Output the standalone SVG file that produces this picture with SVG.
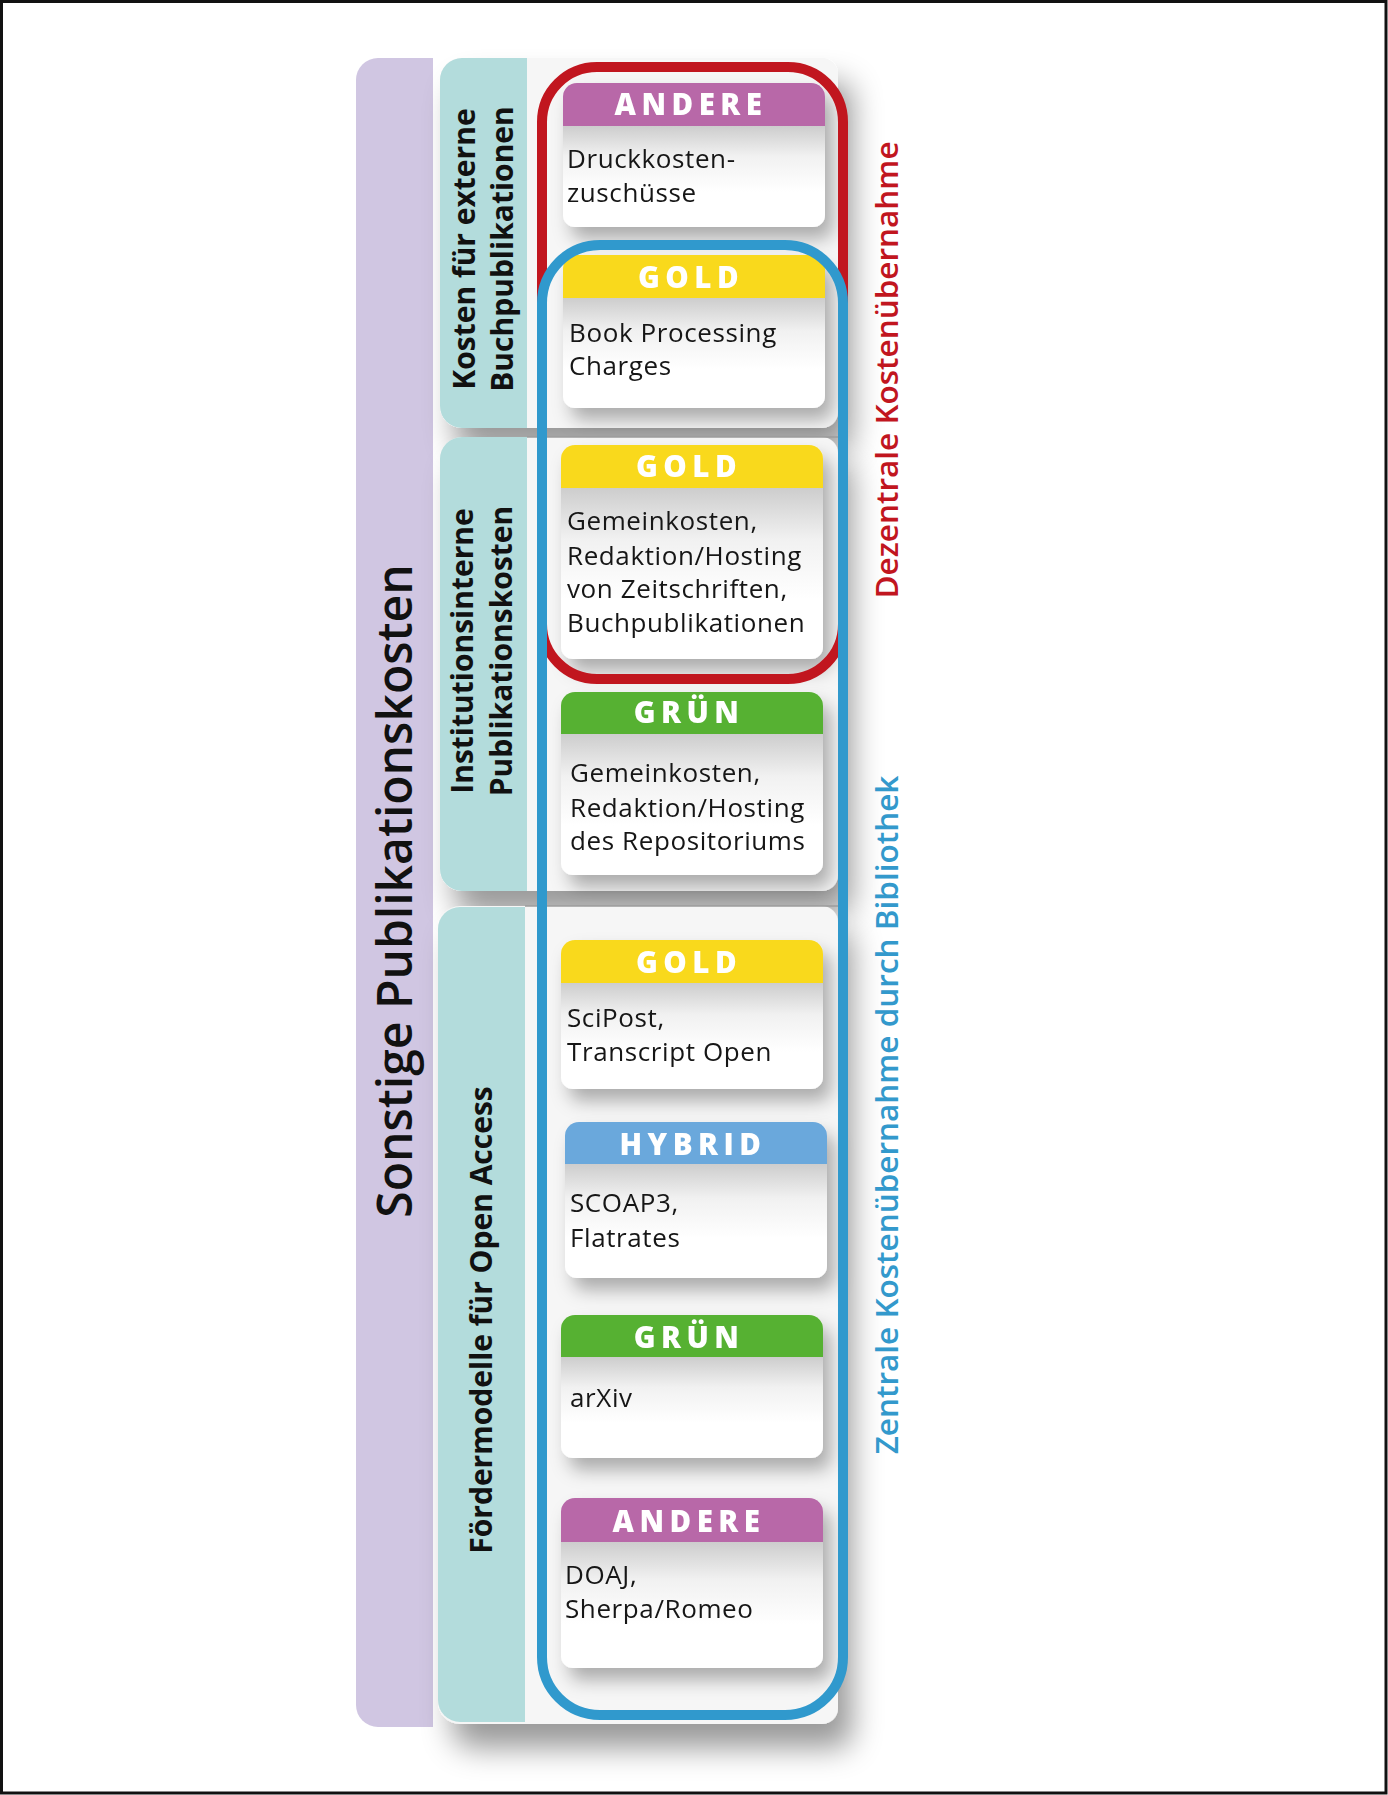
<svg xmlns="http://www.w3.org/2000/svg" width="1388" height="1795" viewBox="0 0 1388 1795">
<defs>
<style>
.body{font-family:"Open Sans","Liberation Sans",sans-serif;font-size:26px;fill:#161616;letter-spacing:0.6px}
.hdr{font-family:"Open Sans","Liberation Sans",sans-serif;font-size:29.5px;font-weight:800;fill:#ffffff;letter-spacing:5.5px;text-anchor:middle}
.cat{font-family:"Open Sans","Liberation Sans",sans-serif;font-size:30px;font-weight:700;fill:#111;letter-spacing:0px;text-anchor:middle}
.main{font-family:"Open Sans","Liberation Sans",sans-serif;font-size:48px;font-weight:600;fill:#111;text-anchor:middle}
.side{font-family:"Open Sans","Liberation Sans",sans-serif;font-size:31.5px;font-weight:600;text-anchor:middle}
.teal{fill:#b3dcdc}
.panel{fill:#f6f6f6}
.cardbody{fill:url(#bodyGrad)}
.divider{stroke:#9c9c9c;stroke-width:1.5}
.and{fill:#b867a8}
.gold{fill:#f9d91d}
.gruen{fill:#56b133}
.hyb{fill:#6ba8dc}
</style>
<linearGradient id="bodyGrad" x1="0" y1="0" x2="0" y2="1">
<stop offset="0" stop-color="#cdcdcd"/>
<stop offset="0.3" stop-color="#f1f1f1"/>
<stop offset="0.65" stop-color="#ffffff"/>
<stop offset="1" stop-color="#ffffff"/>
</linearGradient>
<filter id="panelShadow" x="-10%" y="-10%" width="135%" height="140%">
<feDropShadow dx="14" dy="24" stdDeviation="15" flood-color="#000" flood-opacity="0.4"/>
</filter>
<filter id="cardShadow" x="-10%" y="-15%" width="130%" height="150%">
<feDropShadow dx="8" dy="12" stdDeviation="9" flood-color="#000" flood-opacity="0.3"/>
</filter>
</defs>

<rect x="0" y="0" width="1388" height="1795" fill="#ffffff"/>
<rect x="1.5" y="1.5" width="1384.5" height="1791.5" fill="none" stroke="#111" stroke-width="3"/>

<g id="main-category">
<path d="M433,58 H378 A22,22 0 0 0 356,80 V1705 A22,22 0 0 0 378,1727 H433 Z" fill="#d0c6e2"/>
<text class="main" transform="translate(412,891) rotate(-90)">Sonstige Publikationskosten</text>
</g>

<g id="section-extern">
<path class="panel" filter="url(#panelShadow)" d="M462,58 H822 A16,16 0 0 1 838,74 V412 A16,16 0 0 1 822,428 H462 A22,22 0 0 1 440,406 V80 A22,22 0 0 1 462,58 Z"/>
<path class="teal" d="M527,58 H462 A22,22 0 0 0 440,80 V406 A22,22 0 0 0 462,428 H527 Z"/>
<text class="cat" transform="translate(475,249) rotate(-90)">Kosten für externe</text>
<text class="cat" transform="translate(513,249) rotate(-90)">Buchpublikationen</text>
</g>

<g id="section-intern">
<path class="panel" filter="url(#panelShadow)" d="M462,437 H822 A16,16 0 0 1 838,453 V875 A16,16 0 0 1 822,891 H462 A22,22 0 0 1 440,869 V459 A22,22 0 0 1 462,437 Z"/>
<path class="teal" d="M527,437 H462 A22,22 0 0 0 440,459 V869 A22,22 0 0 0 462,891 H527 Z"/>
<line class="divider" x1="527" y1="437" x2="838" y2="437"/>
<text class="cat" transform="translate(473,651) rotate(-90)">Institutionsinterne</text>
<text class="cat" transform="translate(512,651) rotate(-90)">Publikationskosten</text>
</g>

<g id="section-foerder">
<path class="panel" filter="url(#panelShadow)" d="M460,906 H822 A16,16 0 0 1 838,922 V1708 A16,16 0 0 1 822,1724 H460 A22,22 0 0 1 438,1702 V928 A22,22 0 0 1 460,906 Z"/>
<path class="teal" d="M525,907 H460 A22,22 0 0 0 438,929 V1700 A22,22 0 0 0 460,1722 H525 Z"/>
<line class="divider" x1="525" y1="906" x2="838" y2="906"/>
<text class="cat" transform="translate(492,1320) rotate(-90)">Fördermodelle für Open Access</text>
</g>

<g id="card-druckkosten" filter="url(#cardShadow)">
<path class="and" d="M563,126 V97 A14,14 0 0 1 577,83 H811 A14,14 0 0 1 825,97 V126 Z"/>
<path class="cardbody" d="M563,126 H825 V215 A12,12 0 0 1 813,227 H575 A12,12 0 0 1 563,215 Z"/>
<text class="hdr" x="691" y="115">ANDERE</text>
<text class="body" x="567" y="168">Druckkosten-</text>
<text class="body" x="567" y="202">zuschüsse</text>
</g>

<g id="card-bpc" filter="url(#cardShadow)">
<path class="gold" d="M563,298 V269 A14,14 0 0 1 577,255 H811 A14,14 0 0 1 825,269 V298 Z"/>
<path class="cardbody" d="M563,298 H825 V396 A12,12 0 0 1 813,408 H575 A12,12 0 0 1 563,396 Z"/>
<text class="hdr" x="691" y="288">GOLD</text>
<text class="body" x="569" y="342">Book Processing</text>
<text class="body" x="569" y="375">Charges</text>
</g>

<g id="card-gemein-gold" filter="url(#cardShadow)">
<path class="gold" d="M561,488 V459 A14,14 0 0 1 575,445 H809 A14,14 0 0 1 823,459 V488 Z"/>
<path class="cardbody" d="M561,488 H823 V647 A12,12 0 0 1 811,659 H573 A12,12 0 0 1 561,647 Z"/>
<text class="hdr" x="689" y="477">GOLD</text>
<text class="body" x="567" y="530">Gemeinkosten,</text>
<text class="body" x="567" y="565">Redaktion/Hosting</text>
<text class="body" x="567" y="598">von Zeitschriften,</text>
<text class="body" x="567" y="632">Buchpublikationen</text>
</g>

<g id="card-gemein-gruen" filter="url(#cardShadow)">
<path class="gruen" d="M561,734 V706 A14,14 0 0 1 575,692 H809 A14,14 0 0 1 823,706 V734 Z"/>
<path class="cardbody" d="M561,734 H823 V863 A12,12 0 0 1 811,875 H573 A12,12 0 0 1 561,863 Z"/>
<text class="hdr" x="689" y="723">GRÜN</text>
<text class="body" x="570" y="782">Gemeinkosten,</text>
<text class="body" x="570" y="817">Redaktion/Hosting</text>
<text class="body" x="570" y="850">des Repositoriums</text>
</g>

<g id="card-scipost" filter="url(#cardShadow)">
<path class="gold" d="M561,983 V954 A14,14 0 0 1 575,940 H809 A14,14 0 0 1 823,954 V983 Z"/>
<path class="cardbody" d="M561,983 H823 V1077 A12,12 0 0 1 811,1089 H573 A12,12 0 0 1 561,1077 Z"/>
<text class="hdr" x="689" y="973">GOLD</text>
<text class="body" x="567" y="1027">SciPost,</text>
<text class="body" x="567" y="1061">Transcript Open</text>
</g>

<g id="card-scoap" filter="url(#cardShadow)">
<path class="hyb" d="M565,1164 V1136 A14,14 0 0 1 579,1122 H813 A14,14 0 0 1 827,1136 V1164 Z"/>
<path class="cardbody" d="M565,1164 H827 V1266 A12,12 0 0 1 815,1278 H577 A12,12 0 0 1 565,1266 Z"/>
<text class="hdr" x="693" y="1155">HYBRID</text>
<text class="body" x="570" y="1212">SCOAP3,</text>
<text class="body" x="570" y="1247">Flatrates</text>
</g>

<g id="card-arxiv" filter="url(#cardShadow)">
<path class="gruen" d="M561,1357 V1329 A14,14 0 0 1 575,1315 H809 A14,14 0 0 1 823,1329 V1357 Z"/>
<path class="cardbody" d="M561,1357 H823 V1446 A12,12 0 0 1 811,1458 H573 A12,12 0 0 1 561,1446 Z"/>
<text class="hdr" x="689" y="1348">GRÜN</text>
<text class="body" x="570" y="1407">arXiv</text>
</g>

<g id="card-doaj" filter="url(#cardShadow)">
<path class="and" d="M561,1542 V1512 A14,14 0 0 1 575,1498 H809 A14,14 0 0 1 823,1512 V1542 Z"/>
<path class="cardbody" d="M561,1542 H823 V1656 A12,12 0 0 1 811,1668 H573 A12,12 0 0 1 561,1656 Z"/>
<text class="hdr" x="689" y="1532">ANDERE</text>
<text class="body" x="565" y="1584">DOAJ,</text>
<text class="body" x="565" y="1618">Sherpa/Romeo</text>
</g>

<g id="frame-dezentral">
<rect x="542" y="67" width="301" height="612" rx="55" ry="55" fill="none" stroke="#c1161f" stroke-width="10"/>
<text class="side" fill="#c1161f" transform="translate(898,370) rotate(-90)">Dezentrale Kostenübernahme</text>
</g>

<g id="frame-zentral">
<rect x="542" y="245" width="301" height="1470" rx="58" ry="58" fill="none" stroke="#3099cd" stroke-width="10"/>
<text class="side" fill="#3399cc" transform="translate(898,1115) rotate(-90)">Zentrale Kostenübernahme durch Bibliothek</text>
</g>

<g id="connectors"></g>
</svg>
